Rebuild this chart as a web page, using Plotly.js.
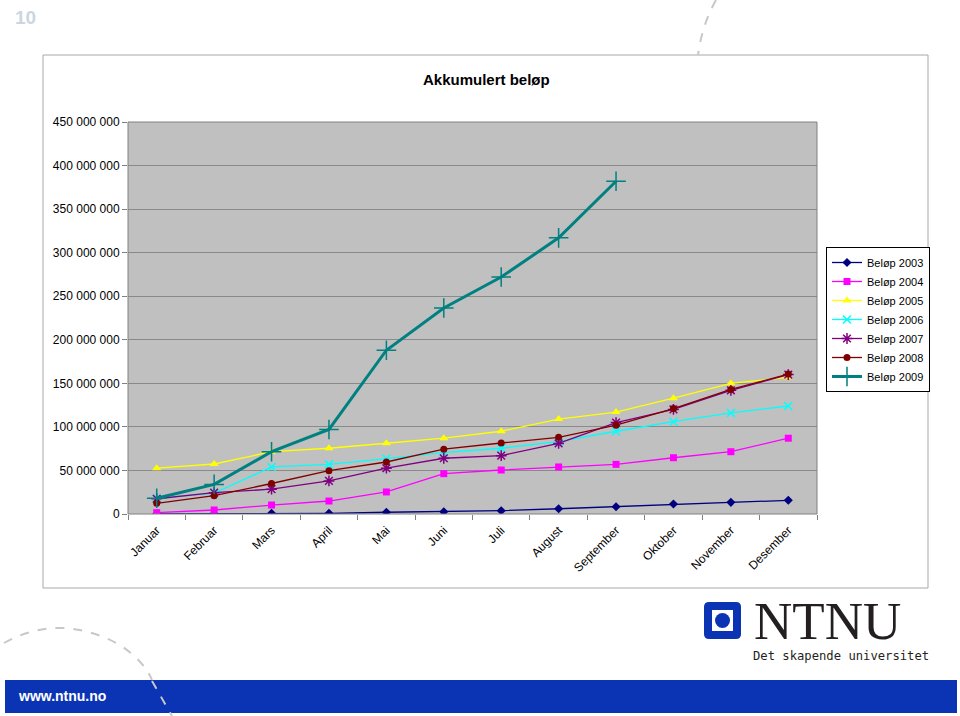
<!DOCTYPE html>
<html>
<head>
<meta charset="utf-8">
<script src="https://cdn.plot.ly/plotly-3.0.1.min.js"></script>
<style>
html,body{margin:0;padding:0;background:#fff;}
#chart{width:960px;height:716px;}
</style>
</head>
<body>
<div id="chart"></div>
<script>
const months = ["Januar","Februar","Mars","April","Mai","Juni","Juli","August","September","Oktober","November","Desember"];
const seriesNames = ["Beløp 2003","Beløp 2004","Beløp 2005","Beløp 2006","Beløp 2007","Beløp 2008","Beløp 2009"];
const belop2003 = [0, 200000, 800000, 800000, 2000000, 2600000, 3800000, 6000000, 8400000, 11500000, 13400000, 15700000];
const belop2004 = [1500000, 4600000, 10300000, 14900000, 25300000, 46300000, 50500000, 54000000, 57000000, 64600000, 71500000, 87000000];
const belop2005 = [52600000, 57400000, 71500000, 75500000, 81200000, 87000000, 95000000, 109000000, 117000000, 133000000, 150000000, 157000000];
const belop2006 = [18000000, 24000000, 54000000, 57000000, 63500000, 70500000, 75500000, 83000000, 95000000, 106000000, 116000000, 124000000];
const belop2007 = [17500000, 24500000, 28500000, 38000000, 52600000, 64000000, 67000000, 81000000, 105000000, 120000000, 142000000, 160000000];
const belop2008 = [12300000, 21000000, 35000000, 49700000, 59700000, 74400000, 81500000, 88000000, 102000000, 121000000, 143000000, 160600000];
const belop2009 = [18000000, 34000000, 71500000, 97000000, 188000000, 236500000, 272000000, 317000000, 382000000];
const yTicks = [0, 50000000, 100000000, 150000000, 200000000, 250000000, 300000000, 350000000, 400000000, 450000000];

const allValues = [belop2003, belop2004, belop2005, belop2006, belop2007, belop2008, belop2009];
const colors = ["#000080", "#ff00ff", "#ffff00", "#00ffff", "#800080", "#800000", "#008080"];
const symbols = ["diamond", "square", "triangle-up", "x-thin-open", "asterisk-open", "circle", "cross-thin-open"];
const msizes = [7, 7, 8, 8, 9, 7, 14];
const lwidths = [1.3, 1.3, 1.3, 1.3, 1.3, 1.3, 3];

const traces = allValues.map((vals, i) => ({
  type: "scatter",
  mode: "lines+markers",
  name: seriesNames[i],
  x: months.slice(0, vals.length),
  y: vals,
  line: {color: colors[i], width: lwidths[i]},
  marker: {symbol: symbols[i], color: colors[i], size: msizes[i], line: {color: colors[i], width: (i===3||i===4||i===6) ? 1.5 : 0}},
  hoverinfo: "x+y+name"
}));

// pixel -> paper helpers (plot area: x 128..817, y 122..514)
const PL = 128, PR = 817, PT = 122, PB = 514;
const X = p => (p - PL) / (PR - PL);
const Y = p => (PB - p) / (PB - PT);

const shapes = [
  {type: "rect", xref: "paper", yref: "paper", x0: X(43), x1: X(928), y0: Y(588), y1: Y(55), line: {color: "#a8a8a8", width: 1}, fillcolor: "rgba(0,0,0,0)", layer: "below"},
  {type: "rect", xref: "paper", yref: "paper", x0: 0, x1: 1, y0: 0, y1: 1, line: {color: "#808080", width: 1}, fillcolor: "rgba(0,0,0,0)"},
  {type: "rect", xref: "paper", yref: "paper", x0: X(5), x1: X(957), y0: Y(713), y1: Y(680), line: {width: 0}, fillcolor: "#0b34b4"},
  {type: "path", xref: "paper", yref: "paper", path: `M ${X(716)} ${Y(0)} Q ${X(702)} ${Y(25)} ${X(698)} ${Y(55)}`, line: {color: "#c8c8c8", width: 2, dash: "dash"}},
  {type: "path", xref: "paper", yref: "paper", path: `M ${X(4)} ${Y(643)} Q ${X(60)} ${Y(612)} ${X(120)} ${Y(645)} Q ${X(145)} ${Y(662)} ${X(152)} ${Y(680)}`, line: {color: "#c8c8c8", width: 2, dash: "dash"}},
  {type: "path", xref: "paper", yref: "paper", path: `M ${X(152)} ${Y(681)} L ${X(172)} ${Y(716)}`, line: {color: "#c8c8c8", width: 2, dash: "dash"}},
  {type: "path", xref: "paper", yref: "paper", path: `M ${X(709)} ${Y(602)} L ${X(736)} ${Y(602)} Q ${X(741)} ${Y(602)} ${X(741)} ${Y(607)} L ${X(741)} ${Y(634)} Q ${X(741)} ${Y(639)} ${X(736)} ${Y(639)} L ${X(709)} ${Y(639)} Q ${X(704)} ${Y(639)} ${X(704)} ${Y(634)} L ${X(704)} ${Y(607)} Q ${X(704)} ${Y(602)} ${X(709)} ${Y(602)} Z`, line: {width: 0}, fillcolor: "#0b34b4"},
  {type: "rect", xref: "paper", yref: "paper", x0: X(712), x1: X(733), y0: Y(631), y1: Y(610), line: {width: 0}, fillcolor: "#ffffff"},
  {type: "circle", xref: "paper", yref: "paper", x0: X(715), x1: X(730), y0: Y(628), y1: Y(613), line: {width: 0}, fillcolor: "#0b34b4"}
];

const annotations = [
  {xref: "paper", yref: "paper", x: X(486), y: Y(80), text: "<b>Akkumulert beløp</b>", showarrow: false, font: {family: "Liberation Sans, Arial, sans-serif", size: 15, color: "#000"}, xanchor: "center", yanchor: "middle"},
  {xref: "paper", yref: "paper", x: X(13), y: Y(17), text: "<b>10</b>", showarrow: false, font: {family: "Liberation Sans, Arial, sans-serif", size: 19, color: "#cbd6e2"}, xanchor: "left", yanchor: "middle"},
  {xref: "paper", yref: "paper", x: X(752), y: Y(621), text: "NTNU", showarrow: false, font: {family: "Liberation Serif, Times New Roman, serif", size: 53, color: "#231f20"}, xanchor: "left", yanchor: "middle", height: 44, valign: "middle"},
  {xref: "paper", yref: "paper", x: X(751), y: Y(656), text: "Det skapende universitet", showarrow: false, font: {family: "DejaVu Sans Mono, monospace", size: 12.2, color: "#231f20"}, xanchor: "left", yanchor: "middle"},
  {xref: "paper", yref: "paper", x: X(16), y: Y(696), text: "<b>www.ntnu.no</b>", showarrow: false, font: {family: "Liberation Sans, Arial, sans-serif", size: 14, color: "#ffffff"}, xanchor: "left", yanchor: "middle"}
];

const layout = {
  width: 960, height: 716,
  margin: {l: PL, r: 960 - PR, t: PT, b: 716 - PB, pad: 0},
  paper_bgcolor: "#ffffff",
  plot_bgcolor: "#c0c0c0",
  separators: ", ",
  showlegend: true,
  font: {family: "Liberation Sans, Arial, sans-serif", size: 12, color: "#000"},
  xaxis: {
    type: "category",
    categoryorder: "array",
    categoryarray: months,
    tickvals: months,
    ticktext: months,
    range: [-0.5, 11.5],
    tickangle: -45,
    ticks: "outside",
    tickson: "boundaries",
    ticklen: 5,
    tickcolor: "#808080",
    ticklabelstandoff: 6,
    showgrid: false,
    zeroline: false,
    showline: false,
    tickfont: {size: 12, color: "#000"},
    fixedrange: true
  },
  yaxis: {
    range: [0, 450000000],
    tickvals: yTicks,
    tickformat: ",d",
    ticks: "outside",
    ticklen: 5,
    tickcolor: "#808080",
    showgrid: true,
    gridcolor: "#8a8a8a",
    gridwidth: 1,
    zeroline: false,
    showline: false,
    tickfont: {size: 12, color: "#000"},
    fixedrange: true
  },
  legend: {
    x: X(826), y: Y(247), xanchor: "left", yanchor: "top",
    bgcolor: "#ffffff", bordercolor: "#000000", borderwidth: 1,
    font: {size: 11, color: "#000"},
    tracegroupgap: 0,
    itemwidth: 30
  },
  shapes: shapes,
  annotations: annotations
};

Plotly.newPlot("chart", traces, layout, {displayModeBar: false, staticPlot: true});
</script>
</body>
</html>
